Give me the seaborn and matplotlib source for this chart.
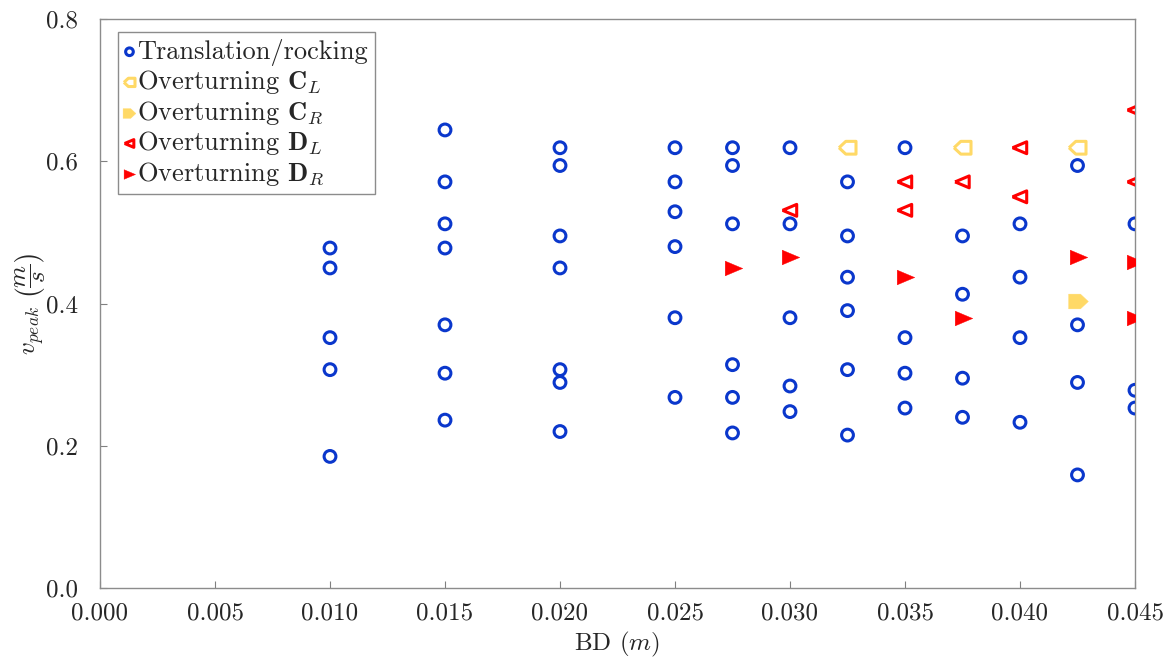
"""
Peak velocity vs BD: response regimes (translation/rocking vs overturning).
"""
import matplotlib
matplotlib.use("Agg")
import matplotlib.pyplot as plt
import seaborn as sns
import pandas as pd

# Translation / rocking
trans_x = ([0.010] * 5 + [0.015] * 7 + [0.020] * 7 + [0.025] * 6 + [0.0275] * 6
           + [0.030] * 5 + [0.0325] * 6 + [0.035] * 4 + [0.0375] * 4 + [0.040] * 4
           + [0.0425] * 4 + [0.045] * 3)
trans_y = [0.478, 0.450, 0.352, 0.307, 0.185,
           0.644, 0.571, 0.512, 0.478, 0.370, 0.302, 0.236,
           0.619, 0.594, 0.495, 0.450, 0.307, 0.289, 0.220,
           0.619, 0.571, 0.529, 0.480, 0.380, 0.268,
           0.619, 0.594, 0.512, 0.314, 0.268, 0.218,
           0.619, 0.512, 0.380, 0.284, 0.248,
           0.571, 0.495, 0.437, 0.390, 0.307, 0.215,
           0.619, 0.352, 0.302, 0.253,
           0.495, 0.413, 0.295, 0.240,
           0.512, 0.437, 0.352, 0.233,
           0.594, 0.370, 0.289, 0.159,
           0.512, 0.278, 0.253]

# Overturning C_L / C_R
cl_x = [0.0325, 0.0375, 0.0425]
cl_y = [0.619, 0.619, 0.619]
cr_x = [0.0425]
cr_y = [0.403]

# Overturning D_L / D_R
dl_x = [0.030, 0.035, 0.035, 0.0375, 0.040, 0.040, 0.045, 0.045]
dl_y = [0.531, 0.571, 0.531, 0.571, 0.619, 0.550, 0.672, 0.571]
dr_x = [0.0275, 0.030, 0.035, 0.0375, 0.0425, 0.045, 0.045]
dr_y = [0.450, 0.465, 0.437, 0.380, 0.465, 0.459, 0.380]

x_ticks = [0.000, 0.005, 0.010, 0.015, 0.020, 0.025, 0.030, 0.035, 0.040, 0.045]
y_ticks = [0.0, 0.2, 0.4, 0.6, 0.8]

BLUE = "#0a37cc"
YELLOW = "#ffd966"
RED = "#ff0000"

sns.set_theme(style="white")
plt.rcParams["font.family"] = ["serif"]
plt.rcParams["font.serif"] = ["cmr10", "DejaVu Serif"]
plt.rcParams["mathtext.fontset"] = "cm"
plt.rcParams["axes.formatter.use_mathtext"] = True
plt.rcParams["axes.unicode_minus"] = False
plt.rcParams["xtick.major.pad"] = 10
plt.rcParams["ytick.major.pad"] = 16
plt.rcParams["xtick.direction"] = "in"
plt.rcParams["ytick.direction"] = "in"

# marker outlines
house_left = [(-1.0, 0.0), (-0.2, 0.75), (1.0, 0.75), (1.0, -0.75), (-0.2, -0.75), (-1.0, 0.0)]
house_right = [(-x, y) for x, y in house_left]
tri_left = [(-1.0, 0.0), (0.9, 0.8), (0.9, -0.8), (-1.0, 0.0)]
tri_right = [(-x, y) for x, y in tri_left]

fig = plt.figure(figsize=(11.71, 6.59), dpi=100)
ax = fig.add_axes([100 / 1171, 1 - 588 / 659, 1035 / 1171, 569 / 659])

series = [
    ("Translation/rocking", trans_x, trans_y, "o", BLUE, False, 72),
    (r"Overturning $\mathbf{C}_L$", cl_x, cl_y, house_left, YELLOW, False, 150),
    (r"Overturning $\mathbf{C}_R$", cr_x, cr_y, house_right, YELLOW, True, 200),
    (r"Overturning $\mathbf{D}_L$", dl_x, dl_y, tri_left, RED, False, 115),
    (r"Overturning $\mathbf{D}_R$", dr_x, dr_y, tri_right, RED, True, 175),
]

for label, xs, ys, marker, color, filled, size in series:
    df = pd.DataFrame({"BD": xs, "v": ys})
    if filled:
        sns.scatterplot(data=df, x="BD", y="v", ax=ax, marker=marker, s=size,
                        color=color, edgecolor=color, linewidth=0.3, label=label, zorder=3)
    else:
        sns.scatterplot(data=df, x="BD", y="v", ax=ax, marker=marker, s=size,
                        facecolor="none", edgecolor=color, linewidth=2.2, label=label, zorder=3)

ax.set_xlim(0.0, 0.045)
ax.set_ylim(0.0, 0.8)
ax.set_xticks(x_ticks)
ax.set_xticklabels([f"{t:.3f}" for t in x_ticks])
ax.set_yticks(y_ticks)
ax.set_yticklabels([f"{t:.1f}" for t in y_ticks])
ax.tick_params(axis="both", which="both", direction="in", length=5, width=0.8,
               color="#808080", labelsize=18, top=False, right=False, bottom=True, left=True)

for sp in ax.spines.values():
    sp.set_color("#8c8c8c")
    sp.set_linewidth(1.0)

ax.set_xlabel(r"BD $(m)$", fontsize=18, labelpad=4)
ax.set_ylabel(r"$v_{peak}\ \left(\dfrac{m}{s}\right)$", fontsize=18)
ax.yaxis.set_label_coords(-0.051, 0.5)

leg = ax.legend(loc="upper left", bbox_to_anchor=(0.017, 0.977), borderaxespad=0,
                fontsize=19, frameon=True, fancybox=False, framealpha=1,
                edgecolor="#8c8c8c", handlelength=0.4, handletextpad=0.1,
                labelspacing=0.1, borderpad=0.25, markerscale=0.65)
leg.get_frame().set_linewidth(1.0)

fig.savefig("out.png", dpi=100)
plt.close(fig)
